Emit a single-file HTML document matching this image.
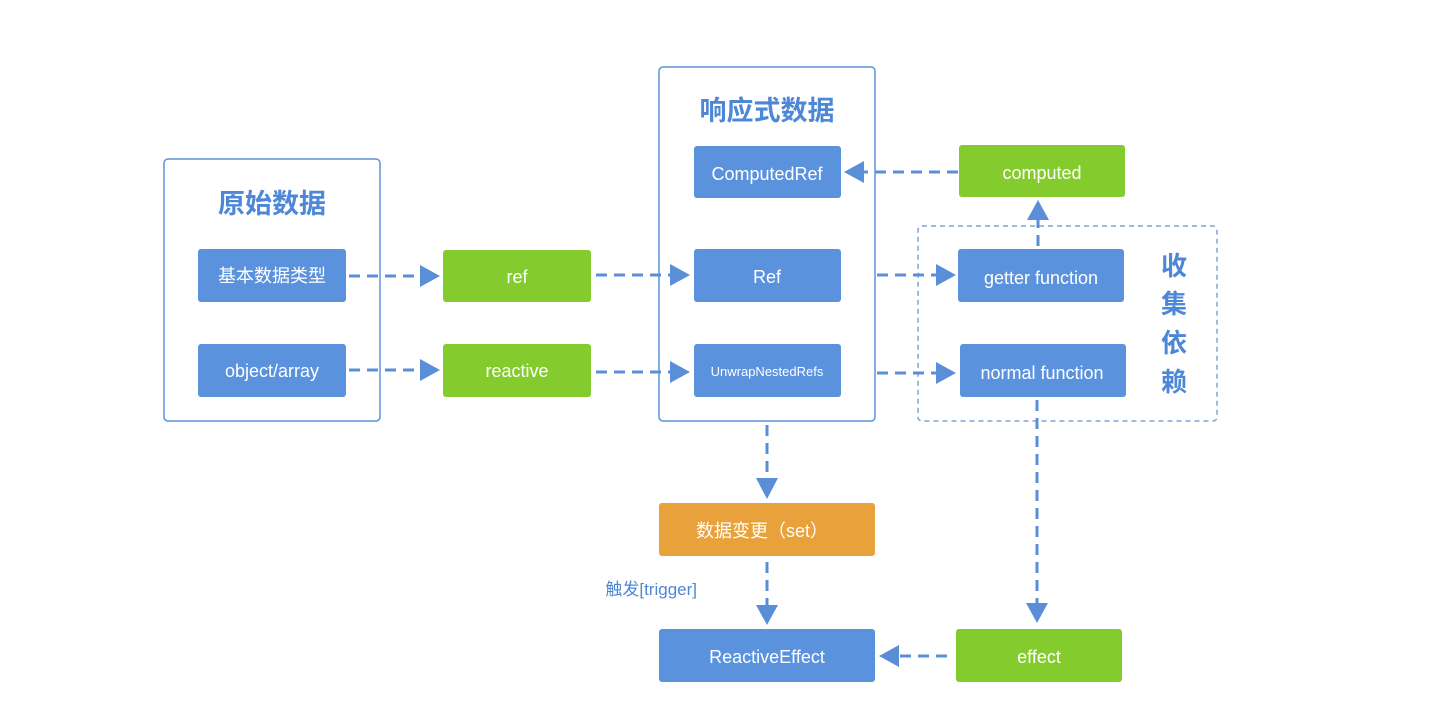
<!DOCTYPE html>
<html><head><meta charset="utf-8"><style>
html,body{margin:0;padding:0;background:#fff;}
svg{display:block;}
text{font-family:"Liberation Sans","Noto Sans CJK SC",sans-serif;}
</style></head><body>
<svg width="1440" height="715" viewBox="0 0 1440 715" xmlns="http://www.w3.org/2000/svg">
<defs>
<marker id="a" viewBox="0 0 10 10" refX="9" refY="5" markerWidth="7" markerHeight="7" markerUnits="userSpaceOnUse" orient="auto"></marker>
</defs>
<!-- containers -->
<rect x="164" y="159" width="216" height="262" rx="4" fill="none" stroke="#5E93DA" stroke-width="1.5"/>
<rect x="659" y="67" width="216" height="354" rx="4" fill="none" stroke="#5E93DA" stroke-width="1.5"/>
<rect x="918" y="226" width="299" height="195" rx="4" fill="none" stroke="#7FA3D0" stroke-width="1.5" stroke-dasharray="5,4"/>
<text x="272" y="213" font-size="27" fill="#4D87D6" text-anchor="middle" font-weight="bold">原始数据</text>
<text x="767" y="120" font-size="27" fill="#4D87D6" text-anchor="middle" font-weight="bold">响应式数据</text>
<g font-size="26" fill="#4D87D6" text-anchor="middle" font-weight="bold">
<text x="1174" y="275">收</text><text x="1174" y="313">集</text><text x="1174" y="352">依</text><text x="1174" y="391">赖</text>
</g>
<!-- nodes -->
<g font-size="18" fill="#fff" text-anchor="middle">
<rect x="198" y="249" width="148" height="53" rx="3" fill="#5A92DE"/><text x="272" y="282">基本数据类型</text>
<rect x="198" y="344" width="148" height="53" rx="3" fill="#5A92DE"/><text x="272" y="377">object/array</text>
<rect x="443" y="250" width="148" height="52" rx="3" fill="#84CB2E"/><text x="517" y="283">ref</text>
<rect x="443" y="344" width="148" height="53" rx="3" fill="#84CB2E"/><text x="517" y="377">reactive</text>
<rect x="694" y="146" width="147" height="52" rx="3" fill="#5A92DE"/><text x="767" y="180">ComputedRef</text>
<rect x="694" y="249" width="147" height="53" rx="3" fill="#5A92DE"/><text x="767" y="283">Ref</text>
<rect x="694" y="344" width="147" height="53" rx="3" fill="#5A92DE"/><text x="767" y="376" font-size="13">UnwrapNestedRefs</text>
<rect x="959" y="145" width="166" height="52" rx="3" fill="#84CB2E"/><text x="1042" y="179">computed</text>
<rect x="958" y="249" width="166" height="53" rx="3" fill="#5A92DE"/><text x="1041" y="284">getter function</text>
<rect x="960" y="344" width="166" height="53" rx="3" fill="#5A92DE"/><text x="1042" y="379">normal function</text>
<rect x="659" y="503" width="216" height="53" rx="3" fill="#E9A23B"/><text x="762" y="537">数据变更（set）</text>
<rect x="659" y="629" width="216" height="53" rx="3" fill="#5A92DE"/><text x="767" y="663">ReactiveEffect</text>
<rect x="956" y="629" width="166" height="53" rx="3" fill="#84CB2E"/><text x="1039" y="663">effect</text>
</g>
<text x="697" y="595" font-size="17" fill="#4D87D6" text-anchor="end">触发[trigger]</text>
<!-- connectors -->
<g stroke="#5A8FD8" stroke-width="3" stroke-dasharray="11,7" fill="none">
<line x1="349" y1="276" x2="422" y2="276"/>
<line x1="349" y1="370" x2="422" y2="370"/>
<line x1="596" y1="275" x2="672" y2="275"/>
<line x1="596" y1="372" x2="672" y2="372"/>
<line x1="958" y1="172" x2="862" y2="172"/>
<line x1="877" y1="275" x2="938" y2="275"/>
<line x1="877" y1="373" x2="938" y2="373"/>
<line x1="1038" y1="246" x2="1038" y2="220"/>
<line x1="767" y1="425" x2="767" y2="480"/>
<line x1="767" y1="562" x2="767" y2="607"/>
<line x1="1037" y1="400" x2="1037" y2="603"/>
<line x1="947" y1="656" x2="898" y2="656"/>
</g>
<g fill="#5A8FD8">
<polygon points="420,265 440,276 420,287"/>
<polygon points="420,359 440,370 420,381"/>
<polygon points="670,264 690,275 670,286"/>
<polygon points="670,361 690,372 670,383"/>
<polygon points="864,161 844,172 864,183"/>
<polygon points="936,264 956,275 936,286"/>
<polygon points="936,362 956,373 936,384"/>
<polygon points="1027,220 1038,200 1049,220"/>
<polygon points="756,478 767,499 778,478"/>
<polygon points="756,605 767,625 778,605"/>
<polygon points="1026,603 1037,623 1048,603"/>
<polygon points="899,645 879,656 899,667"/>
</g>
</svg>
</body></html>
